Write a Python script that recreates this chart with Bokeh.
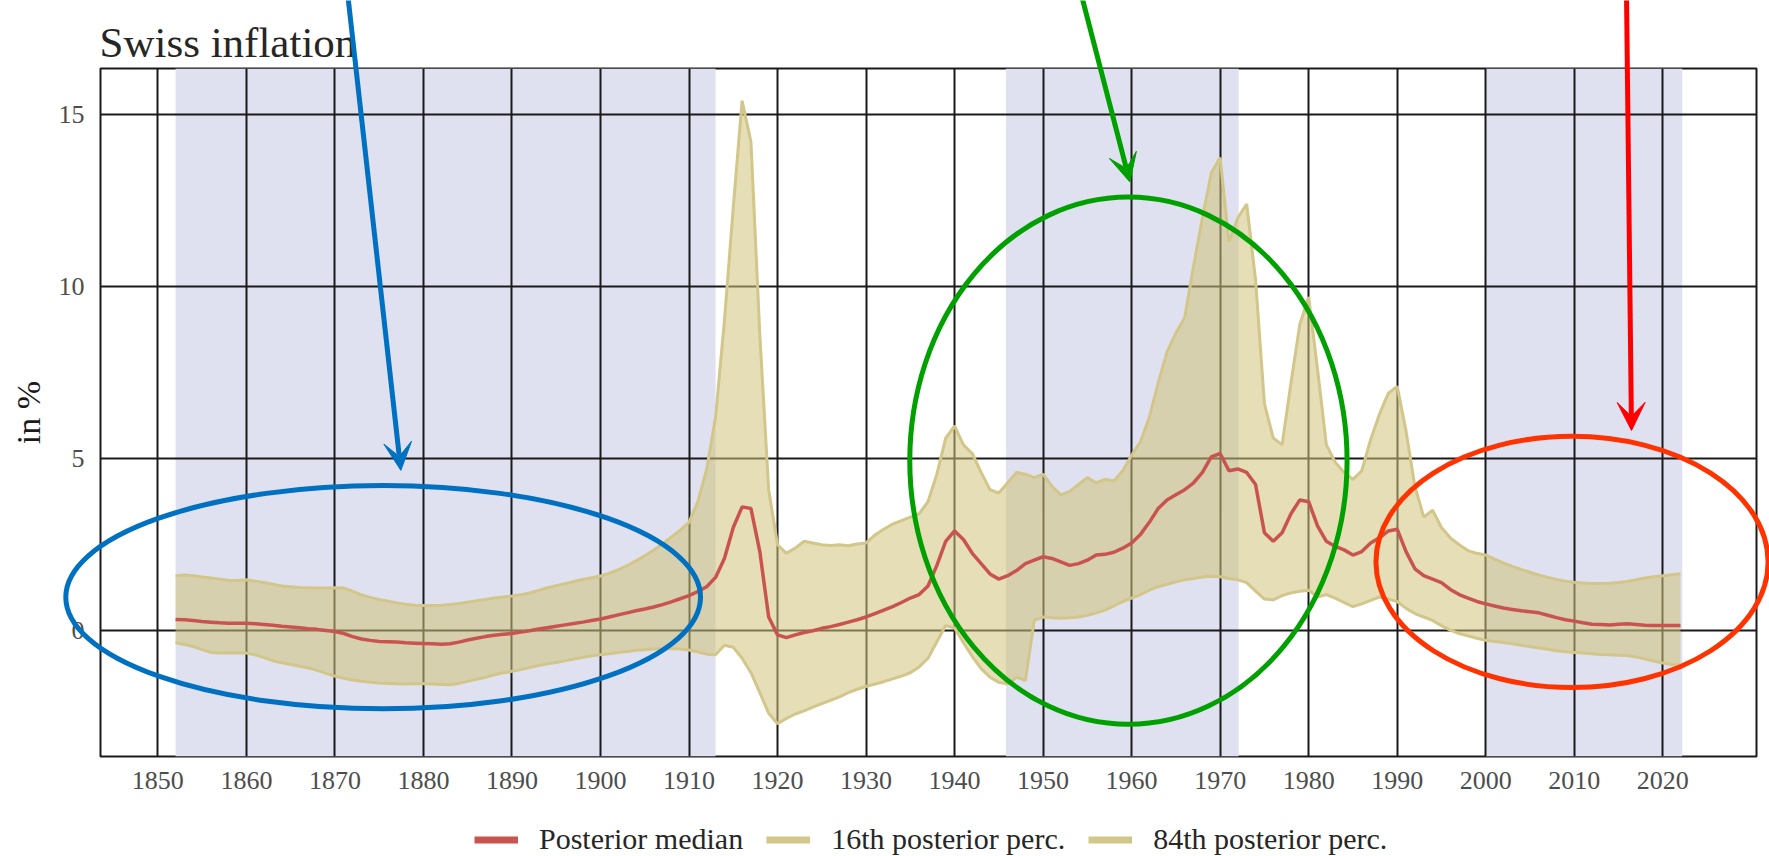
from bokeh.plotting import figure
from bokeh.models import (BoxAnnotation, Legend, LegendItem, FixedTicker, Arrow,
                          VeeHead, ColumnDataSource)
from bokeh.core.properties import value
from bokeh.embed import file_html
from bokeh.resources import INLINE

# ---------------- data ----------------
years = list(range(1852, 2023))

upper_84 = [
    1.60, 1.62, 1.60, 1.56, 1.53, 1.50, 1.47, 1.46,
    1.48, 1.44, 1.40, 1.35, 1.30, 1.28, 1.26, 1.25, 1.24, 1.24,
    1.25, 1.24, 1.15, 1.04, 0.97, 0.91, 0.86, 0.81, 0.77, 0.74,
    0.73, 0.73, 0.74, 0.76, 0.79, 0.83, 0.87, 0.91, 0.95, 0.98,
    1.01, 1.05, 1.10, 1.17, 1.25, 1.31, 1.37, 1.43, 1.49, 1.54,
    1.59, 1.67, 1.77, 1.89, 2.03, 2.18, 2.34, 2.52, 2.72, 2.92,
    3.15, 3.75, 4.70, 6.20, 9.00, 12.30, 15.40, 14.20, 8.60, 4.10,
    2.50, 2.25, 2.40, 2.60, 2.55, 2.50, 2.48, 2.50, 2.47, 2.52,
    2.55, 2.78, 2.95, 3.10, 3.20, 3.30, 3.40, 3.75, 4.55, 5.60,
    5.95, 5.40, 5.15, 4.60, 4.10, 4.00, 4.30, 4.60, 4.55, 4.45,
    4.55, 4.20, 3.95, 4.05, 4.25, 4.45, 4.30, 4.40, 4.35, 4.65,
    5.10, 5.50, 6.20, 7.20, 8.10, 8.65, 9.10, 10.60, 12.00, 13.30,
    13.75, 11.30, 12.00, 12.40, 10.20, 6.60, 5.60, 5.40, 7.20, 8.90,
    9.70, 7.60, 5.40, 4.90, 4.60, 4.40, 4.65, 5.55, 6.30, 6.90,
    7.10, 5.80, 4.20, 3.30, 3.50, 3.00, 2.70, 2.50, 2.33, 2.25,
    2.20, 2.08, 1.97, 1.87, 1.78, 1.70, 1.62, 1.55, 1.49, 1.44,
    1.41, 1.39, 1.37, 1.37, 1.38, 1.40, 1.43, 1.48, 1.53, 1.57,
    1.60, 1.63, 1.66,
]

median = [
    0.33, 0.32, 0.30, 0.27, 0.25, 0.23, 0.22, 0.22,
    0.22, 0.20, 0.18, 0.16, 0.13, 0.11, 0.09, 0.06, 0.04, 0.01,
    -0.02, -0.08, -0.17, -0.24, -0.28, -0.31, -0.32, -0.33, -0.35, -0.36,
    -0.37, -0.38, -0.39, -0.38, -0.33, -0.27, -0.22, -0.17, -0.13, -0.10,
    -0.08, -0.04, 0.00, 0.05, 0.09, 0.13, 0.17, 0.21, 0.25, 0.30,
    0.34, 0.40, 0.46, 0.52, 0.58, 0.63, 0.69, 0.76, 0.84, 0.93,
    1.02, 1.14, 1.28, 1.55, 2.10, 3.00, 3.60, 3.55, 2.30, 0.40,
    -0.12, -0.20, -0.12, -0.05, 0.00, 0.07, 0.12, 0.18, 0.25, 0.32,
    0.40, 0.50, 0.60, 0.70, 0.82, 0.95, 1.05, 1.30, 1.90, 2.60,
    2.90, 2.65, 2.25, 1.95, 1.65, 1.50, 1.60, 1.75, 1.95, 2.05,
    2.15, 2.10, 2.00, 1.90, 1.95, 2.05, 2.20, 2.22, 2.28, 2.40,
    2.55, 2.80, 3.15, 3.55, 3.80, 3.95, 4.10, 4.30, 4.60, 5.05,
    5.15, 4.65, 4.70, 4.60, 4.25, 2.85, 2.60, 2.85, 3.40, 3.80,
    3.75, 3.05, 2.60, 2.45, 2.35, 2.20, 2.30, 2.55, 2.70, 2.90,
    2.95, 2.30, 1.80, 1.60, 1.50, 1.40, 1.20, 1.05, 0.95, 0.85,
    0.78, 0.72, 0.66, 0.62, 0.58, 0.55, 0.52, 0.45, 0.38, 0.32,
    0.28, 0.23, 0.19, 0.18, 0.17, 0.19, 0.20, 0.18, 0.16, 0.15,
    0.15, 0.15, 0.15,
]

lower_16 = [
    -0.35, -0.40, -0.46, -0.55, -0.63, -0.65, -0.65, -0.64,
    -0.65, -0.70, -0.78, -0.87, -0.93, -0.98, -1.03, -1.08, -1.15, -1.24,
    -1.32, -1.38, -1.43, -1.47, -1.50, -1.52, -1.53, -1.54, -1.55, -1.54,
    -1.54, -1.55, -1.56, -1.57, -1.53, -1.47, -1.41, -1.35, -1.28, -1.22,
    -1.18, -1.13, -1.07, -1.01, -0.96, -0.92, -0.87, -0.82, -0.77, -0.73,
    -0.70, -0.67, -0.63, -0.60, -0.57, -0.55, -0.53, -0.52, -0.52, -0.53,
    -0.56, -0.62, -0.68, -0.70, -0.42, -0.48, -0.80, -1.22, -1.80, -2.40,
    -2.70, -2.55, -2.42, -2.33, -2.22, -2.12, -2.02, -1.92, -1.80, -1.70,
    -1.62, -1.55, -1.48, -1.40, -1.32, -1.22, -1.05, -0.80, -0.32, 0.15,
    0.08, -0.35, -0.75, -1.10, -1.35, -1.50, -1.55, -1.35, -1.45, 0.30,
    0.40, 0.38, 0.36, 0.38, 0.40, 0.45, 0.52, 0.60, 0.72, 0.85,
    0.95, 1.05, 1.18, 1.28, 1.35, 1.42, 1.48, 1.52, 1.56, 1.58,
    1.57, 1.52, 1.48, 1.40, 1.15, 0.92, 0.90, 1.02, 1.10, 1.15,
    1.18, 0.98, 1.05, 0.95, 0.82, 0.70, 0.78, 0.88, 0.98, 0.92,
    0.85, 0.65, 0.50, 0.40, 0.30, 0.15, 0.02, -0.08, -0.15, -0.22,
    -0.28, -0.31, -0.34, -0.38, -0.42, -0.46, -0.50, -0.54, -0.58, -0.61,
    -0.63, -0.65, -0.67, -0.69, -0.70, -0.71, -0.72, -0.76, -0.82, -0.88,
    -0.94, -0.98, -1.00,
]

# shaded periods
band_start = [1852.0, 1945.8, 2000.0]
band_end = [1913.0, 1972.1, 2022.2]

x_ticks = list(range(1850, 2021, 10))
y_ticks = [0, 5, 10, 15]

title_text = "Swiss inflation"
legend_labels = ["Posterior median", "16th posterior perc.", "84th posterior perc."]

# hand-drawn markings on top of the chart (in the chart's data coordinates)
ell_cx = [1875.45, 1959.64, 2009.75]
ell_cy = [0.975, 4.94, 2.0]
ell_w = [71.7, 49.4, 44.3]
ell_h = [6.49, 15.32, 7.3]
ell_color = ["#0070C0", "#00A000", "#FF3300"]

arr_x0 = [1871.4, 1954.2, 2015.9]
arr_y0 = [18.6, 18.6, 18.6]
arr_x1 = [1877.45, 1959.8, 2016.47]
arr_y1 = [4.66, 13.04, 5.82]
arr_color = ["#0070C0", "#00A000", "#FF0000"]

# ---------------- layout constants ----------------
W, H = 1769, 856
B_LEFT, B_RIGHT, B_TOP, B_BOTTOM = 100, 13, 68, 100
X0, X1 = 1843.52, 2030.59
Y0, Y1 = -3.654, 16.337
TITLE_LEFT_PX, TITLE_BASE_PX = 99, 42          # title position on the page
LEGEND_LEFT_PX, LEGEND_BOTTOM_PX = 474, 856     # legend box position on the page

FONT = "Liberation Serif"
RED = "#c9544f"
KHAKI = "#d2c68a"
FILL = "#cfc27a"
BAND = "#e0e1f0"
GRID = "#1a1a1a"

src = ColumnDataSource(dict(year=years, up=upper_84, med=median, lo=lower_16))

# ---------------- main chart ----------------
p = figure(width=W, height=H, x_range=(X0, X1), y_range=(Y0, Y1),
           output_backend="svg", toolbar_location=None,
           min_border_left=B_LEFT, min_border_right=B_RIGHT,
           min_border_top=B_TOP, min_border_bottom=B_BOTTOM,
           background_fill_color="white", border_fill_color="white")

for s, e in zip(band_start, band_end):
    p.add_layout(BoxAnnotation(left=s, right=e, fill_color=BAND, fill_alpha=1.0,
                               line_alpha=0, level="image"))

p.varea(x="year", y1="lo", y2="up", source=src, fill_color=FILL, fill_alpha=0.55)
r_up = p.line("year", "up", source=src, line_color=KHAKI, line_width=3)
r_lo = p.line("year", "lo", source=src, line_color=KHAKI, line_width=3)
r_med = p.line("year", "med", source=src, line_color=RED, line_width=3.5)

p.xaxis.ticker = FixedTicker(ticks=x_ticks)
p.yaxis.ticker = FixedTicker(ticks=y_ticks)
p.xgrid.ticker = FixedTicker(ticks=x_ticks)
p.ygrid.ticker = FixedTicker(ticks=y_ticks)
p.grid.grid_line_color = GRID
p.grid.grid_line_width = 2
p.grid.grid_line_alpha = 1.0
p.outline_line_color = GRID
p.outline_line_width = 2

p.axis.axis_line_color = None
p.axis.major_tick_line_color = None
p.axis.minor_tick_line_color = None
p.axis.major_tick_out = 0
p.axis.major_tick_in = 0
p.axis.major_label_text_font = FONT
p.axis.major_label_text_font_size = "26px"
p.axis.major_label_text_color = "#4d4d4d"
p.xaxis.major_label_standoff = 15
p.yaxis.major_label_standoff = 16
p.yaxis.axis_label = "in %"
p.yaxis.axis_label_text_font = FONT
p.yaxis.axis_label_text_font_size = "34px"
p.yaxis.axis_label_text_font_style = "normal"
p.yaxis.axis_label_text_color = "#1a1a1a"
p.yaxis.axis_label_standoff = 9

# ---------------- transparent full-page layer: title, legend, markings ----------------
kx = (W - B_LEFT - B_RIGHT) / (X1 - X0)
ky = (H - B_TOP - B_BOTTOM) / (Y1 - Y0)
ov = figure(width=W, height=H,
            x_range=(X0 - B_LEFT / kx, X1 + B_RIGHT / kx),
            y_range=(Y0 - B_BOTTOM / ky, Y1 + B_TOP / ky),
            output_backend="svg", toolbar_location=None, min_border=0,
            x_axis_type=None, y_axis_type=None, title=None,
            background_fill_alpha=0, border_fill_alpha=0, outline_line_color=None,
            styles={"position": "absolute", "top": "0px", "left": "0px",
                    "pointer-events": "none"})

# chart title
ov.text(x=[X0 + (TITLE_LEFT_PX - B_LEFT) / kx], y=[Y1 + (B_TOP - TITLE_BASE_PX) / ky],
        text=[title_text], text_font=value(FONT), text_font_size="43px",
        text_color="#262626", text_baseline="alphabetic", text_align="left")

# legend: swatch-only renderers (one empty row, nothing drawn in the plot area)
nan = float("nan")
sw_src = ColumnDataSource(dict(x=[nan], y=[nan]))
leg_med = ov.line("x", "y", source=sw_src, line_color=RED, line_width=7)
leg_lo = ov.line("x", "y", source=sw_src, line_color=KHAKI, line_width=7)
leg_up = ov.line("x", "y", source=sw_src, line_color=KHAKI, line_width=7)
legend = Legend(items=[LegendItem(label=legend_labels[0], renderers=[leg_med]),
                       LegendItem(label=legend_labels[1], renderers=[leg_lo]),
                       LegendItem(label=legend_labels[2], renderers=[leg_up])],
                orientation="horizontal", location=(LEGEND_LEFT_PX, H - LEGEND_BOTTOM_PX),
                label_text_font=FONT, label_text_font_size="30px",
                label_text_color="#262626",
                glyph_width=44, glyph_height=33, label_standoff=21, spacing=23,
                padding=0, margin=0, border_line_alpha=0, background_fill_alpha=0)
ov.add_layout(legend, "center")

# hand-drawn ellipses and arrows
ov.ellipse(x=ell_cx, y=ell_cy, width=ell_w, height=ell_h, fill_alpha=0,
           line_color=ell_color, line_width=5)
for x0, y0, x1, y1, c in zip(arr_x0, arr_y0, arr_x1, arr_y1, arr_color):
    ov.add_layout(Arrow(x_start=x0, y_start=y0, x_end=x1, y_end=y1, line_color=c, line_width=5,
                        end=VeeHead(size=28, fill_color=c, line_color=c)))

open("out.html", "w").write(file_html([p, ov], INLINE))
